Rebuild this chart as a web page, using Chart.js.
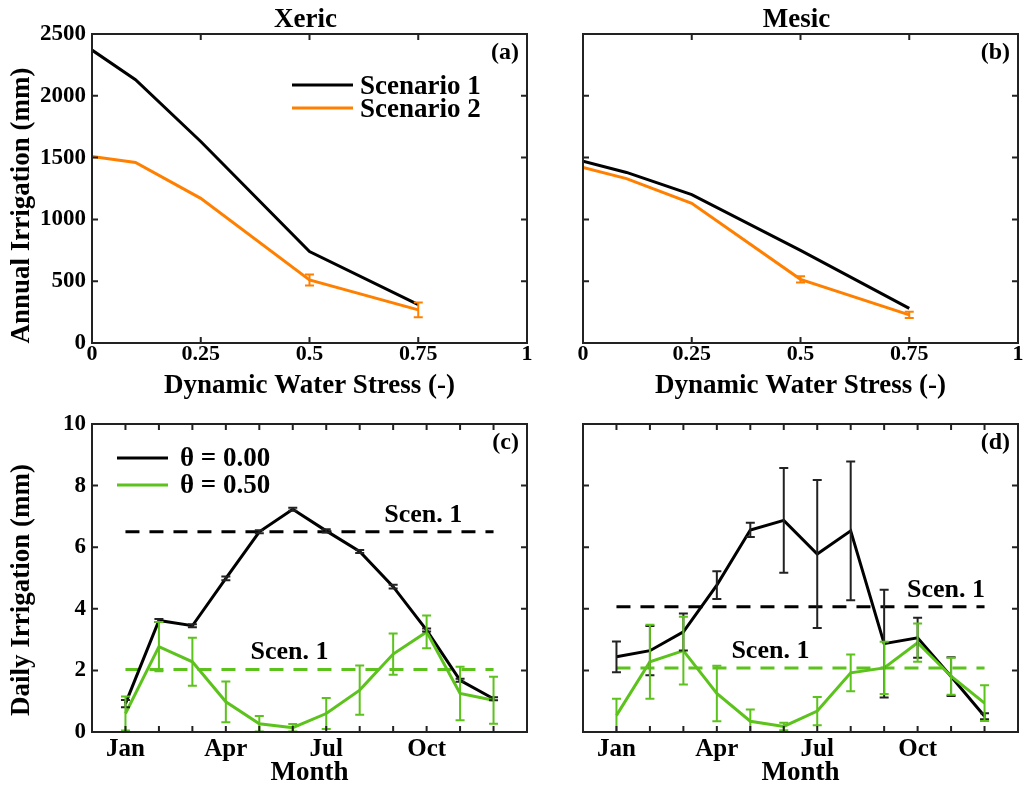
<!DOCTYPE html>
<html>
<head>
<meta charset="utf-8">
<script src="https://cdn.jsdelivr.net/npm/chart.js@4.4.0/dist/chart.umd.min.js"></script>
<style>
  html, body { margin: 0; padding: 0; background: #fff; }
  #wrap { position: relative; width: 1024px; height: 788px; overflow: hidden; }
  #wrap canvas { position: absolute; }
</style>
</head>
<body>
<div id="wrap">
  <canvas id="panelA" width="540" height="400" style="left:0;top:0"></canvas>
  <canvas id="panelB" width="484" height="400" style="left:540px;top:0"></canvas>
  <canvas id="panelC" width="540" height="388" style="left:0;top:400px"></canvas>
  <canvas id="panelD" width="484" height="388" style="left:540px;top:400px"></canvas>
</div>
<script>
const BLACK = '#000000';
const ORANGE = '#FF8000';
const GREEN = '#5CC21C';
const SERIF = "'Liberation Serif', 'Times New Roman', serif";

// top row: annual irrigation vs dynamic water stress
const stressLevels = [0, 0.1, 0.25, 0.5, 0.75];
const xericScen1 = [2370, 2130, 1630, 740, 310];
const xericScen2 = [1510, 1460, 1170, 510, 268];
const xericScen2Err = [0, 0, 0, 45, 60];
const mesicScen1 = [1470, 1380, 1200, 750, 280];
const mesicScen2 = [1420, 1330, 1130, 515, 228];
const mesicScen2Err = [0, 0, 0, 25, 25];
const stressTicks = [0, 0.25, 0.5, 0.75, 1];
const annualTicks = [0, 500, 1000, 1500, 2000, 2500];

// bottom row: daily irrigation by month
const months = [1, 2, 3, 4, 5, 6, 7, 8, 9, 10, 11, 12];
const monthTicks = [1, 4, 7, 10];
const monthTickLabels = ['Jan', 'Apr', 'Jul', 'Oct'];
const dailyTicks = [0, 2, 4, 6, 8, 10];
const scenLineMonths = [1, 12];

const xericTheta0 = [0.92, 3.62, 3.45, 4.99, 6.50, 7.23, 6.53, 5.86, 4.72, 3.31, 1.68, 1.08];
const xericTheta0Err = [0.12, 0.05, 0.05, 0.06, 0.05, 0.05, 0.05, 0.05, 0.06, 0.05, 0.05, 0.05];
const xericTheta50 = [0.60, 2.77, 2.28, 0.98, 0.27, 0.14, 0.60, 1.36, 2.53, 3.25, 1.25, 1.03];
const xericTheta50Err = [0.55, 0.80, 0.78, 0.66, 0.25, 0.12, 0.50, 0.80, 0.67, 0.53, 0.87, 0.76];
const xericScen1Theta0 = 6.5;
const xericScen1Theta50 = 2.03;

const mesicTheta0 = [2.44, 2.64, 3.25, 4.77, 6.56, 6.87, 5.78, 6.53, 2.87, 3.06, 1.80, 0.51];
const mesicTheta0Err = [0.50, 0.80, 0.60, 0.45, 0.23, 1.70, 2.40, 2.25, 1.75, 0.65, 0.63, 0.10];
const mesicTheta50 = [0.54, 2.28, 2.64, 1.25, 0.35, 0.18, 0.68, 1.92, 2.08, 2.90, 1.81, 0.94];
const mesicTheta50Err = [0.54, 1.20, 1.10, 0.90, 0.38, 0.12, 0.46, 0.60, 0.85, 0.62, 0.60, 0.58];
const mesicScen1Theta0 = 4.07;
const mesicScen1Theta50 = 2.08;

Chart.defaults.font.family = SERIF;
Chart.defaults.font.weight = 'bold';
Chart.defaults.color = '#000';

const pts = (xs, ys) => xs.map((x, i) => ({ x, y: ys[i] }));
const flat = (v) => scenLineMonths.map((m) => ({ x: m, y: v }));

function line(label, xs, ys, color, order, err, errColor) {
  return {
    label, data: pts(xs, ys), borderColor: color, backgroundColor: color,
    borderWidth: 3, pointRadius: 0, showLine: true, tension: 0, order,
    errorBars: err || null, errorColor: errColor || color
  };
}
function dashed(v, color) {
  return {
    label: 'Scen. 1', data: flat(v), borderColor: color, borderWidth: 3,
    borderDash: [14, 10], pointRadius: 0, showLine: true, order: 5
  };
}

// draws error bars, box with inward ticks, titles, legends and notes
function decor(cfg) {
  return {
    id: 'decor',
    afterDatasetsDraw(chart) {
      const { ctx, chartArea: a, scales: { x, y } } = chart;
      chart.data.datasets.forEach((ds) => {
        if (!ds.errorBars) return;
        ctx.save();
        ctx.strokeStyle = ds.errorColor;
        ctx.lineWidth = 2;
        ds.data.forEach((p, j) => {
          const e = ds.errorBars[j];
          if (!e) return;
          const px = x.getPixelForValue(p.x);
          const top = y.getPixelForValue(p.y + e);
          const bot = Math.min(y.getPixelForValue(p.y - e), a.bottom);
          ctx.beginPath();
          ctx.moveTo(px, top); ctx.lineTo(px, bot);
          ctx.moveTo(px - 4.5, top); ctx.lineTo(px + 4.5, top);
          ctx.moveTo(px - 4.5, bot); ctx.lineTo(px + 4.5, bot);
          ctx.stroke();
        });
        ctx.restore();
      });
    },
    afterDraw(chart) {
      const { ctx, chartArea: a, scales: { x, y } } = chart;
      ctx.save();
      ctx.strokeStyle = '#222';
      ctx.lineWidth = 2;
      ctx.strokeRect(a.left, a.top, a.right - a.left, a.bottom - a.top);
      const len = 6;
      ctx.beginPath();
      x.ticks.forEach((t, i) => {
        const px = x.getPixelForTick(i);
        if (px <= a.left + 1 || px >= a.right - 1) return;
        ctx.moveTo(px, a.bottom); ctx.lineTo(px, a.bottom - len);
        ctx.moveTo(px, a.top); ctx.lineTo(px, a.top + len);
      });
      y.ticks.forEach((t, i) => {
        const py = y.getPixelForTick(i);
        if (py <= a.top + 1 || py >= a.bottom - 1) return;
        ctx.moveTo(a.left, py); ctx.lineTo(a.left + len, py);
        ctx.moveTo(a.right, py); ctx.lineTo(a.right - len, py);
      });
      ctx.stroke();

      ctx.fillStyle = '#000';
      ctx.textBaseline = 'alphabetic';
      if (cfg.title) {
        ctx.font = `bold 27px ${SERIF}`;
        ctx.textAlign = 'center';
        ctx.fillText(cfg.title, (a.left + a.right) / 2 - 4, 27);
      }
      if (cfg.tag) {
        ctx.font = `bold 24px ${SERIF}`;
        ctx.textAlign = 'right';
        ctx.fillText(cfg.tag, a.right - 8, a.top + 25);
      }
      if (cfg.yTitle) {
        ctx.save();
        ctx.font = `bold 27px ${SERIF}`;
        ctx.textAlign = 'center';
        ctx.textBaseline = 'middle';
        ctx.translate(22, (a.top + a.bottom) / 2 + cfg.yShift);
        ctx.rotate(-Math.PI / 2);
        ctx.fillText(cfg.yTitle, 0, 0);
        ctx.restore();
      }
      if (cfg.legend) {
        const L = cfg.legend;
        ctx.font = `bold 27px ${SERIF}`;
        ctx.textAlign = 'left';
        L.items.forEach((di, k) => {
          const ds = chart.data.datasets[di];
          const ly = L.y0 + k * L.gap;
          ctx.strokeStyle = ds.borderColor;
          ctx.lineWidth = 3;
          ctx.beginPath();
          ctx.moveTo(L.x1, ly); ctx.lineTo(L.x2, ly);
          ctx.stroke();
          ctx.fillText(ds.label, L.tx, ly + L.base);
        });
      }
      (cfg.notes || []).forEach((n) => {
        ctx.font = `bold 26px ${SERIF}`;
        ctx.textAlign = 'center';
        ctx.fillText(n.text, x.getPixelForValue(n.x), y.getPixelForValue(n.y) - 10);
      });
      ctx.restore();
    }
  };
}

function panel(id, datasets, o) {
  return new Chart(document.getElementById(id), {
    type: 'scatter',
    data: { datasets },
    options: {
      responsive: false,
      animation: false,
      events: [],
      layout: { padding: { top: o.top, right: o.right, left: 0, bottom: 0 } },
      plugins: { legend: { display: false }, tooltip: { enabled: false } },
      scales: {
        x: {
          type: 'linear', min: o.xMin, max: o.xMax,
          grid: { display: false, drawTicks: false }, border: { display: false },
          afterBuildTicks: (s) => { s.ticks = o.xTicks.map((v) => ({ value: v })); },
          afterFit: (s) => { s.height = o.xH; },
          ticks: { autoSkip: false, maxRotation: 0, padding: o.xPad, font: { size: o.xFont, lineHeight: 1 }, callback: o.xLabel },
          title: { display: true, text: o.xTitle, font: { size: 27, lineHeight: 1 }, padding: { top: 0, bottom: o.xTitlePad } }
        },
        y: {
          type: 'linear', min: o.yMin, max: o.yMax,
          grid: { display: false, drawTicks: false }, border: { display: false },
          afterBuildTicks: (s) => { s.ticks = o.yTicks.map((v) => ({ value: v })); },
          afterFit: (s) => { s.width = o.yW; },
          ticks: { padding: 6, font: { size: 23, lineHeight: 1 }, callback: o.yLabel }
        }
      }
    },
    plugins: [decor(o.decor)]
  });
}

const numLabel = (v) => String(v);
const noLabel = () => '';
const monthLabel = (v) => {
  const i = monthTicks.indexOf(v);
  return i >= 0 ? monthTickLabels[i] : '';
};

const topRow = {
  xMin: 0, xMax: 1, xTicks: stressTicks, xLabel: numLabel, xH: 57, xPad: 0, xTitlePad: 0, xFont: 22,
  xTitle: 'Dynamic Water Stress (-)',
  yMin: 0, yMax: 2500, yTicks: annualTicks, top: 34
};
const bottomRow = {
  xMin: 0, xMax: 13, xTicks: months, xLabel: monthLabel, xH: 56, xPad: 5, xTitlePad: 1, xFont: 25,
  xTitle: 'Month',
  yMin: 0, yMax: 10, yTicks: dailyTicks, top: 24
};

panel('panelA', [
  line('Scenario 1', stressLevels, xericScen1, BLACK, 2),
  line('Scenario 2', stressLevels, xericScen2, ORANGE, 1, xericScen2Err)
], Object.assign({}, topRow, {
  yLabel: numLabel, yW: 92, right: 13,
  decor: { title: 'Xeric', tag: '(a)', yTitle: 'Annual Irrigation (mm)', yShift: 17,
    legend: { items: [0, 1], x1: 292, x2: 353, tx: 360, y0: 85, gap: 23, base: 9 } }
}));

panel('panelB', [
  line('Scenario 1', stressLevels, mesicScen1, BLACK, 2),
  line('Scenario 2', stressLevels, mesicScen2, ORANGE, 1, mesicScen2Err)
], Object.assign({}, topRow, {
  yLabel: noLabel, yW: 43, right: 6,
  decor: { title: 'Mesic', tag: '(b)' }
}));

panel('panelC', [
  line('\u03b8 = 0.00', months, xericTheta0, BLACK, 2, xericTheta0Err, '#222'),
  line('\u03b8 = 0.50', months, xericTheta50, GREEN, 1, xericTheta50Err),
  dashed(xericScen1Theta0, BLACK),
  dashed(xericScen1Theta50, GREEN)
], Object.assign({}, bottomRow, {
  yLabel: numLabel, yW: 92, right: 13,
  decor: { tag: '(c)', yTitle: 'Daily Irrigation (mm)', yShift: 12,
    legend: { items: [0, 1], x1: 117, x2: 168, tx: 180, y0: 58, gap: 27, base: 8 },
    notes: [
      { text: 'Scen. 1', x: 9.9, y: xericScen1Theta0 },
      { text: 'Scen. 1', x: 5.9, y: xericScen1Theta50 }
    ] }
}));

panel('panelD', [
  line('\u03b8 = 0.00', months, mesicTheta0, BLACK, 2, mesicTheta0Err, '#222'),
  line('\u03b8 = 0.50', months, mesicTheta50, GREEN, 1, mesicTheta50Err),
  dashed(mesicScen1Theta0, BLACK),
  dashed(mesicScen1Theta50, GREEN)
], Object.assign({}, bottomRow, {
  yLabel: noLabel, yW: 43, right: 6,
  decor: { tag: '(d)',
    notes: [
      { text: 'Scen. 1', x: 10.85, y: mesicScen1Theta0 },
      { text: 'Scen. 1', x: 5.6, y: mesicScen1Theta50 }
    ] }
}));
</script>
</body>
</html>
